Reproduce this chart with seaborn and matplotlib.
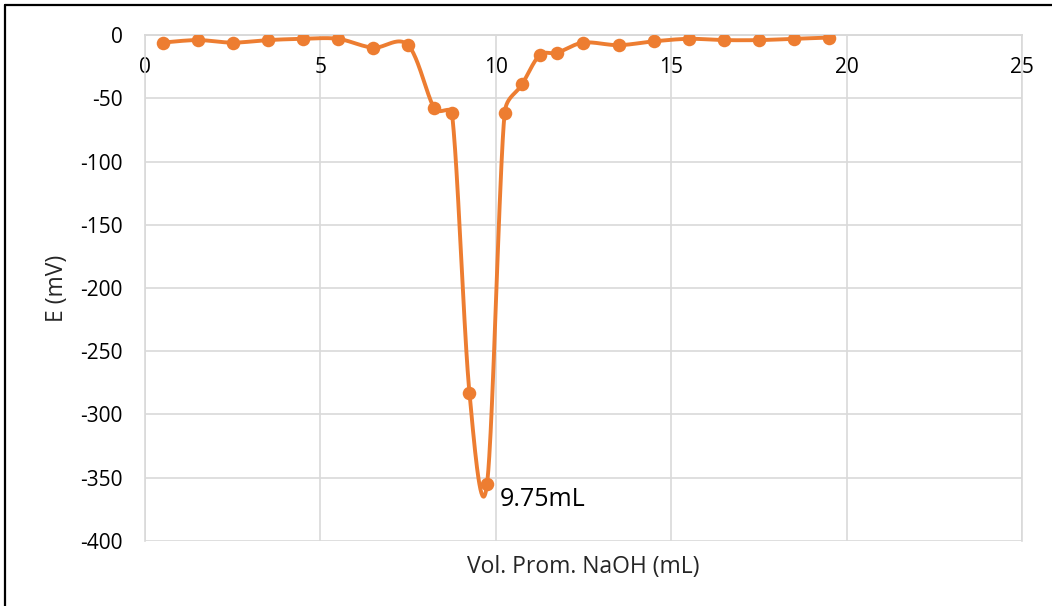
import numpy as np
import pandas as pd
import seaborn as sns
import matplotlib.pyplot as plt
from matplotlib.lines import Line2D

# average NaOH volume (mL) and potential (mV)
vol = [0.5, 1.5, 2.5, 3.5, 4.5, 5.5, 6.5, 7.5, 8.25, 8.75, 9.25, 9.75,
       10.25, 10.75, 11.25, 11.75, 12.5, 13.5, 14.5, 15.5, 16.5, 17.5, 18.5, 19.5]
emv = [-6, -4, -6, -4, -3, -3, -10, -8, -58, -62, -283, -355,
       -62, -39, -16, -14, -6, -8, -5, -3, -4, -4, -3, -2]
x_ticks = [0, 5, 10, 15, 20, 25]
y_ticks = [0, -50, -100, -150, -200, -250, -300, -350, -400]
note_text = "9.75mL"

ORANGE = "#ED7D31"
GRID = "#D9D9D9"


def smooth(ax, xs, ys, n=40):
    # Excel-style smoothed line: Bezier segments, control arms limited
    # to half the segment length (computed in screen pixels)
    p = ax.transData.transform(np.column_stack([xs, ys]).astype(float))
    out = []
    for i in range(len(p) - 1):
        p0 = p[i - 1] if i > 0 else p[i]
        p1, p2 = p[i], p[i + 1]
        p3 = p[i + 2] if i + 2 < len(p) else p[i + 1]
        d12 = np.hypot(*(p2 - p1))
        d02 = np.hypot(*(p2 - p0))
        d13 = np.hypot(*(p3 - p1))
        f1 = min(1 / 6, d12 / (2 * d02)) if d02 > 0 else 0
        f2 = min(1 / 6, d12 / (2 * d13)) if d13 > 0 else 0
        c1 = p1 + (p2 - p0) * f1
        c2 = p2 - (p3 - p1) * f2
        t = np.linspace(0, 1, n)[:, None]
        seg = ((1 - t) ** 3) * p1 + 3 * ((1 - t) ** 2) * t * c1 \
            + 3 * (1 - t) * t ** 2 * c2 + t ** 3 * p2
        out.append(seg if i == 0 else seg[1:])
    return ax.transData.inverted().transform(np.vstack(out))


df = pd.DataFrame({"vol": vol, "E": emv})

sns.set_style("white")
plt.rcParams["font.family"] = ["Open Sans", "DejaVu Sans"]

fig = plt.figure(figsize=(10.52, 6.06), dpi=100)
ax = fig.add_axes([0.1378, 0.1073, 0.8337, 0.8349])
ax.set_xlim(0, 25)
ax.set_ylim(-400, 0)

curve = smooth(ax, vol, emv)
df_curve = pd.DataFrame({"vol": curve[:, 0], "E": curve[:, 1]})

sns.lineplot(data=df_curve, x="vol", y="E", sort=False, estimator=None,
             color=ORANGE, linewidth=2.8, ax=ax, zorder=3)
sns.scatterplot(data=df, x="vol", y="E", color=ORANGE, s=95,
                edgecolor=ORANGE, linewidth=0, ax=ax, zorder=4)

ax.set_xlim(0, 25)
ax.set_ylim(-400, 0)
ax.set_xticks(x_ticks)
ax.set_yticks(y_ticks)
ax.set_xticklabels([str(v) for v in x_ticks])
ax.set_yticklabels([str(v) for v in y_ticks])
ax.grid(True, color=GRID, linewidth=1.2)
ax.set_axisbelow(True)

for s in ax.spines.values():
    s.set_color(GRID)
    s.set_linewidth(1.2)
ax.spines["bottom"].set_position(("data", 0))

ax.tick_params(axis="x", length=0, pad=16, labelsize=15, colors="black")
ax.tick_params(axis="y", length=0, pad=16, labelsize=15, colors="black")

ax.set_xlabel("Vol. Prom. NaOH (mL)", fontsize=16.5)
ax.xaxis.set_label_coords(0.5, -0.052)
ax.xaxis.label.set_va("center")
ax.set_ylabel("E (mV)", fontsize=16.5)
ax.yaxis.set_label_coords(-0.1003, 0.5)
ax.yaxis.label.set_va("center")

ax.text(10.12, -367, note_text, fontsize=18, ha="left", va="center",
        color="black", zorder=5)

# chart frame (left and top edges visible)
fig.add_artist(Line2D([0.005, 0.005], [0, 0.992], transform=fig.transFigure,
                      color="black", linewidth=1.6))
fig.add_artist(Line2D([0.005, 1], [0.992, 0.992], transform=fig.transFigure,
                      color="black", linewidth=1.6))

plt.savefig("out.png", dpi=100)
plt.close()
